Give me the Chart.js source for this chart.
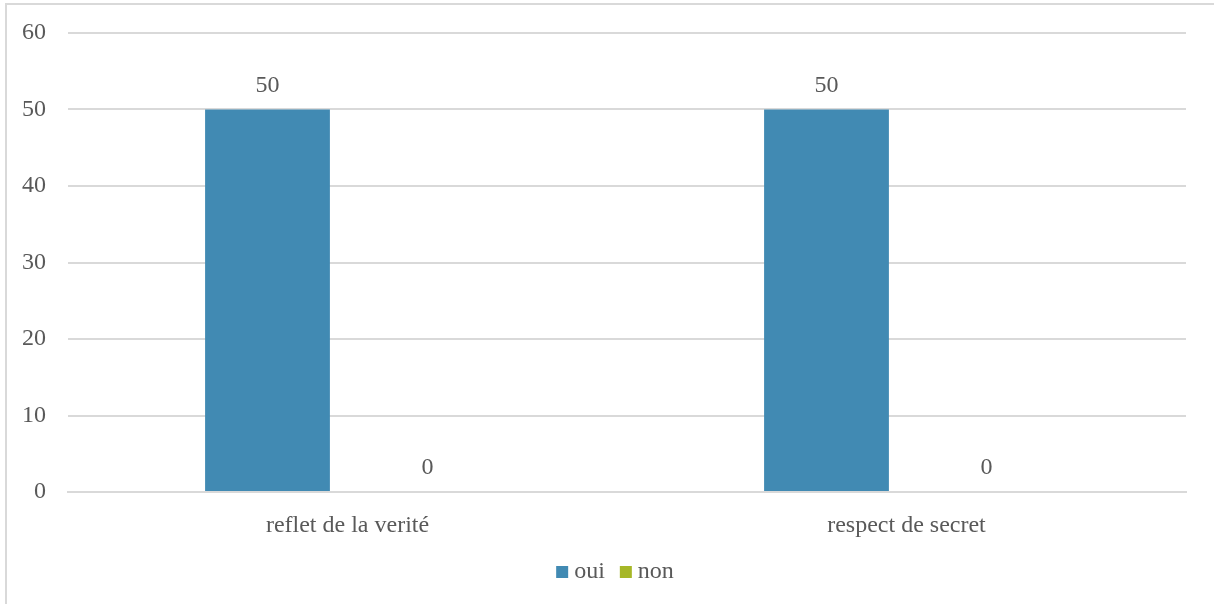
<!DOCTYPE html>
<html>
<head>
<meta charset="utf-8">
<script src="https://cdn.jsdelivr.net/npm/chart.js@4/dist/chart.umd.min.js"></script>
<style>
html,body{margin:0;padding:0;background:#fff;overflow:hidden;}
#frame{position:absolute;left:5px;top:3px;width:1240px;height:640px;border:2px solid #D9D9D9;box-sizing:border-box;}
#wrap{position:absolute;left:0;top:0;width:1214px;height:604px;}
</style>
</head>
<body>
<div id="frame"></div>
<div id="wrap"><canvas id="c"></canvas></div>
<script>
const categories = ["reflet de la verité", "respect de secret"];
const seriesNames = ["oui", "non"];
const ouiValues = [50, 50];
const nonValues = [0, 0];
const yTicks = [0, 10, 20, 30, 40, 50, 60];

const FONT = "'Liberation Serif', 'Times New Roman', serif";
const FS = 24;
const TXT = "#595959";

const valueLabels = {
  id: 'valueLabels',
  afterDatasetsDraw(chart) {
    const ctx = chart.ctx;
    ctx.save();
    ctx.font = FS + "px " + FONT;
    ctx.fillStyle = TXT;
    ctx.textAlign = 'center';
    ctx.textBaseline = 'middle';
    chart.data.datasets.forEach((ds, i) => {
      chart.getDatasetMeta(i).data.forEach((bar, j) => {
        ctx.fillText(String(ds.data[j]), bar.x, bar.y - 24);
      });
    });
    ctx.restore();
  }
};

const customLegend = {
  id: 'customLegend',
  afterDraw(chart) {
    const ctx = chart.ctx;
    ctx.save();
    ctx.font = FS + "px " + FONT;
    const box = 12, gap = 6, itemGap = 15;
    const items = chart.data.datasets.map(ds => ({text: ds.label, color: ds.backgroundColor, w: ctx.measureText(ds.label).width}));
    let total = 0;
    items.forEach((it, i) => { total += box + gap + it.w + (i < items.length - 1 ? itemGap : 0); });
    let x = chart.width / 2 + 8 - total / 2;
    const cy = 572;
    items.forEach(it => {
      ctx.fillStyle = it.color;
      ctx.fillRect(x, cy - box / 2, box, box);
      x += box + gap;
      ctx.fillStyle = TXT;
      ctx.textAlign = 'left';
      ctx.textBaseline = 'middle';
      ctx.fillText(it.text, x, cy);
      x += it.w + itemGap;
    });
    ctx.restore();
  }
};

new Chart(document.getElementById('c'), {
  type: 'bar',
  data: {
    labels: categories,
    datasets: [
      {label: seriesNames[0], data: ouiValues, backgroundColor: '#418AB3', categoryPercentage: 0.5725, barPercentage: 0.78},
      {label: seriesNames[1], data: nonValues, backgroundColor: '#A6B727', categoryPercentage: 0.5725, barPercentage: 0.78}
    ]
  },
  options: {
    responsive: true,
    maintainAspectRatio: false,
    animation: false,
    layout: {padding: {left: 0, right: 28, top: 33, bottom: 54}},
    plugins: {
      tooltip: {enabled: false},
      legend: {display: false}
    },
    scales: {
      x: {
        grid: {display: false, drawTicks: false},
        border: {display: true, color: '#D9D9D9', width: 2},
        ticks: {font: {family: FONT, size: FS}, color: TXT, padding: 19},
        afterFit(s) { s.height = 58; s.paddingLeft = 0; s.paddingRight = 0; }
      },
      y: {
        min: 0, max: 60,
        afterBuildTicks(s) { s.ticks = yTicks.map(v => ({value: v})); },
        grid: {color: '#D9D9D9', lineWidth: 2, drawTicks: false},
        border: {display: false},
        ticks: {font: {family: FONT, size: FS}, color: TXT, padding: 22},
        afterFit(s) { s.width = 68; s.paddingTop = 0; s.paddingBottom = 0; }
      }
    }
  },
  plugins: [valueLabels, customLegend]
});
</script>
</body>
</html>
